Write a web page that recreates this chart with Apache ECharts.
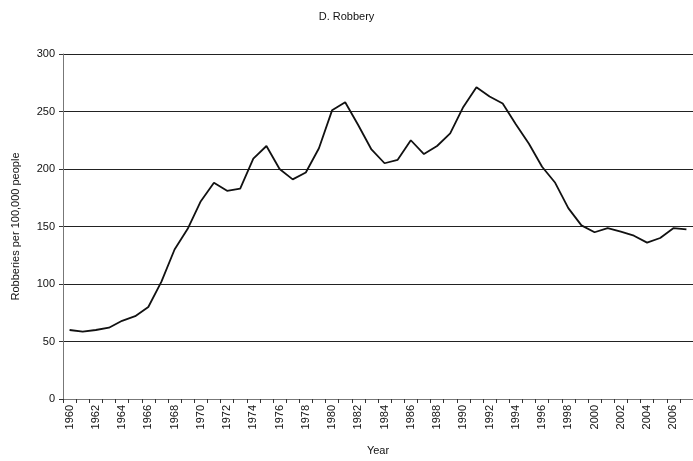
<!DOCTYPE html>
<html><head><meta charset="utf-8">
<script src="https://cdn.jsdelivr.net/npm/echarts@6/dist/echarts.min.js"></script>
<style>html,body{margin:0;padding:0;background:#fff}#c{width:693px;height:461px}</style>
</head><body><div id="c"></div>
<script>
const years = [];
for (let y = 1960; y <= 2007; y++) years.push(String(y));
const robbery = [60, 58.5, 60, 62, 68, 72, 80, 102, 130, 148, 172, 188, 181, 183, 209, 220, 200, 191, 197, 218,
  251, 258, 238, 217, 205, 208, 225, 213, 220, 231, 254, 271, 263, 257, 239, 222, 202, 188, 166, 151,
  145, 148.5, 145.5, 142, 136, 140, 148.5, 147.5];
const yTicks = { min: 0, max: 300, interval: 50 };
const font = 'Liberation Sans, Arial, sans-serif';
const chart = echarts.init(document.getElementById('c'), null, { renderer: 'canvas' });
chart.setOption({
  animation: false,
  backgroundColor: '#fff',
  title: { text: 'D. Robbery', left: 'center', top: 6, textStyle: { fontFamily: font, fontSize: 11, fontWeight: 'normal', color: '#111' } },
  grid: { left: 63, right: 0, top: 54, bottom: 55, containLabel: false },
  xAxis: {
    type: 'category', data: years, boundaryGap: true,
    name: 'Year', nameLocation: 'middle', nameGap: 46,
    nameTextStyle: { fontFamily: font, fontSize: 11, color: '#111' },
    axisLine: { lineStyle: { color: '#777', width: 1 } },
    axisTick: { show: true, interval: 0, alignWithLabel: false, length: 4, lineStyle: { color: '#333' } },
    axisLabel: { interval: 1, rotate: 90, fontFamily: font, fontSize: 11, color: '#111', margin: 6 },
    splitLine: { show: false }
  },
  yAxis: {
    type: 'value', min: yTicks.min, max: yTicks.max, interval: yTicks.interval,
    name: 'Robberies per 100,000 people', nameLocation: 'middle', nameGap: 42, nameRotate: 90,
    nameTextStyle: { fontFamily: font, fontSize: 11, color: '#111' },
    axisLine: { show: true, lineStyle: { color: '#777', width: 1 } },
    axisTick: { show: true, length: 4, lineStyle: { color: '#333' } },
    axisLabel: { fontFamily: font, fontSize: 11, color: '#111', margin: 8 },
    splitLine: { show: true, lineStyle: { color: '#222', width: 1 } }
  },
  series: [{
    type: 'line', data: robbery, showSymbol: false, symbol: 'none',
    lineStyle: { color: '#111', width: 1.8 }
  }]
});
</script></body></html>
